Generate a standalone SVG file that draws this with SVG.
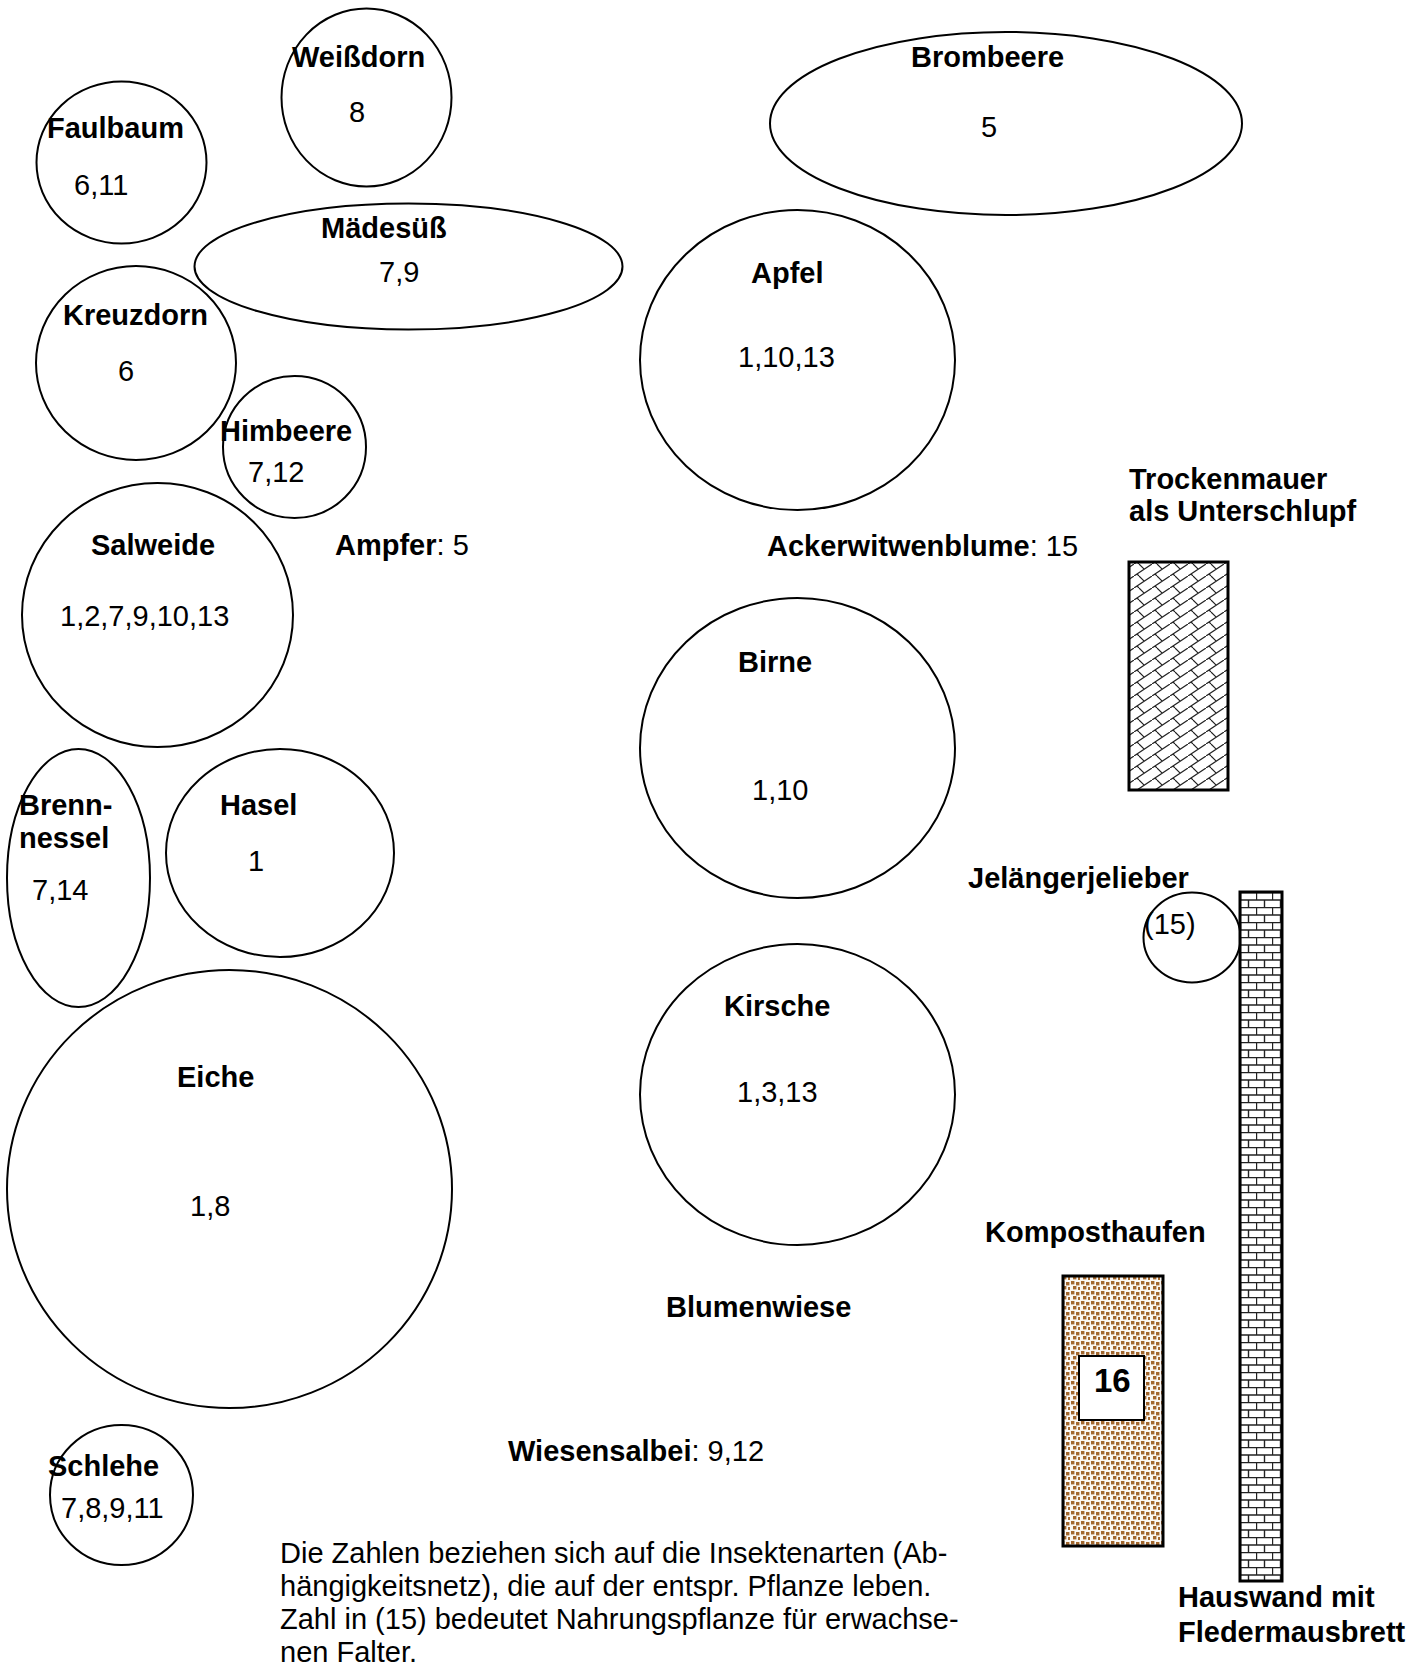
<svg xmlns="http://www.w3.org/2000/svg" width="1423" height="1668" viewBox="0 0 1423 1668">
<style>
text{font-family:"Liberation Sans",Arial,sans-serif;font-size:29px;fill:#000}
.b{font-weight:bold}
.sh{fill:none;stroke:#000;stroke-width:2}
.box{stroke:#000;stroke-width:3}
</style>
<defs>
<pattern id="diagbrick" patternUnits="userSpaceOnUse" width="18" height="12">
<rect width="18" height="12" fill="#fff"/>
<path d="M0,12 L18,0 M3,10 L5,12 M5,0 L10.2,5.2" stroke="#222" stroke-width="1.2" fill="none"/>
</pattern>
<pattern id="brick" patternUnits="userSpaceOnUse" x="1240" y="892" width="16" height="15">
<rect width="16" height="15" fill="#fff"/>
<path d="M0,0.5 H16 M0,8 H16 M0.5,0 V8 M8.5,8 V15" stroke="#222" stroke-width="1.4" fill="none"/>
</pattern>
<pattern id="compost" patternUnits="userSpaceOnUse" width="10" height="10">
<rect width="10" height="10" fill="#fbf8f3"/>
<rect x="1" y="1" width="3.4" height="3.4" fill="#a3682f"/>
<rect x="6" y="2" width="3.4" height="3.4" fill="#a3682f"/>
<rect x="3" y="6" width="3.4" height="3.4" fill="#a3682f"/>
<rect x="8" y="7" width="2.5" height="3.4" fill="#a3682f"/>
</pattern>
</defs>
<rect width="1423" height="1668" fill="#fff"/>
<g id="connectors"/>
<g id="faulbaum"><ellipse class="sh" cx="121.5" cy="162.5" rx="85" ry="81"/><text class="b" x="47" y="138">Faulbaum</text><text x="74" y="195">6,11</text></g>
<g id="weissdorn"><ellipse class="sh" cx="366.5" cy="97.5" rx="85" ry="89"/><text class="b" x="292" y="67">Weißdorn</text><text x="349" y="122">8</text></g>
<g id="maedesuess"><ellipse class="sh" cx="408.5" cy="266.5" rx="214" ry="63"/><text class="b" x="321" y="238">Mädesüß</text><text x="379" y="282">7,9</text></g>
<g id="kreuzdorn"><ellipse class="sh" cx="136" cy="363" rx="100" ry="97"/><text class="b" x="63" y="325">Kreuzdorn</text><text x="118" y="381">6</text></g>
<g id="himbeere"><ellipse class="sh" cx="294.5" cy="447" rx="71.5" ry="71"/><text class="b" x="220" y="441">Himbeere</text><text x="248" y="482">7,12</text></g>
<g id="salweide"><ellipse class="sh" cx="157.5" cy="615" rx="135.5" ry="132"/><text class="b" x="91" y="555">Salweide</text><text x="60" y="626">1,2,7,9,10,13</text></g>
<g id="ampfer"><text x="335" y="555"><tspan class="b">Ampfer</tspan>: 5</text></g>
<g id="brennnessel"><ellipse class="sh" cx="78.5" cy="878" rx="71.5" ry="129"/><text class="b" x="19" y="815">Brenn-</text><text class="b" x="19" y="848">nessel</text><text x="32" y="900">7,14</text></g>
<g id="hasel"><ellipse class="sh" cx="280" cy="853" rx="114" ry="104"/><text class="b" x="220" y="815">Hasel</text><text x="248" y="871">1</text></g>
<g id="eiche"><ellipse class="sh" cx="229.5" cy="1189" rx="222.5" ry="219"/><text class="b" x="177" y="1087">Eiche</text><text x="190" y="1216">1,8</text></g>
<g id="schlehe"><ellipse class="sh" cx="121.5" cy="1495" rx="71.5" ry="70"/><text class="b" x="48" y="1476">Schlehe</text><text x="61" y="1518">7,8,9,11</text></g>
<g id="brombeere"><ellipse class="sh" cx="1006" cy="123.5" rx="236" ry="91.5"/><text class="b" x="911" y="67">Brombeere</text><text x="981" y="137">5</text></g>
<g id="apfel"><ellipse class="sh" cx="797.5" cy="360" rx="157.5" ry="150"/><text class="b" x="751" y="283">Apfel</text><text x="738" y="367">1,10,13</text></g>
<g id="ackerwitwenblume"><text x="767" y="556"><tspan class="b">Ackerwitwenblume</tspan>: 15</text></g>
<g id="birne"><ellipse class="sh" cx="797.5" cy="748" rx="157.5" ry="150"/><text class="b" x="738" y="672">Birne</text><text x="752" y="800">1,10</text></g>
<g id="kirsche"><ellipse class="sh" cx="797.5" cy="1094.5" rx="157.5" ry="150.5"/><text class="b" x="724" y="1016">Kirsche</text><text x="737" y="1102">1,3,13</text></g>
<g id="trockenmauer"><text class="b" x="1129" y="489">Trockenmauer</text><text class="b" x="1129" y="521">als Unterschlupf</text><rect class="box" x="1129" y="562" width="99" height="228" fill="url(#diagbrick)"/></g>
<g id="jelaengerjelieber"><text class="b" x="968" y="888">Jelängerjelieber</text><ellipse class="sh" cx="1192" cy="937.5" rx="48.5" ry="45"/><text x="1144" y="934">(15)</text></g>
<g id="hauswand"><rect class="box" x="1240" y="892" width="42" height="689" fill="url(#brick)"/><text class="b" x="1178" y="1607">Hauswand mit</text><text class="b" x="1178" y="1642">Fledermausbrett</text></g>
<g id="komposthaufen"><text class="b" x="985" y="1242">Komposthaufen</text><rect class="box" x="1063" y="1276" width="100" height="270" fill="url(#compost)"/><rect x="1079" y="1356" width="65" height="64" fill="#fff" stroke="#000" stroke-width="2"/><text class="b" x="1094" y="1392" style="font-size:33px">16</text></g>
<g id="blumenwiese"><text class="b" x="666" y="1317">Blumenwiese</text></g>
<g id="wiesensalbei"><text x="508" y="1461"><tspan class="b">Wiesensalbei</tspan>: 9,12</text></g>
<g id="legende"><text x="280" y="1563">Die Zahlen beziehen sich auf die Insektenarten (Ab-</text><text x="280" y="1596">hängigkeitsnetz), die auf der entspr. Pflanze leben.</text><text x="280" y="1629">Zahl in (15) bedeutet Nahrungspflanze für erwachse-</text><text x="280" y="1662">nen Falter.</text></g>
</svg>
